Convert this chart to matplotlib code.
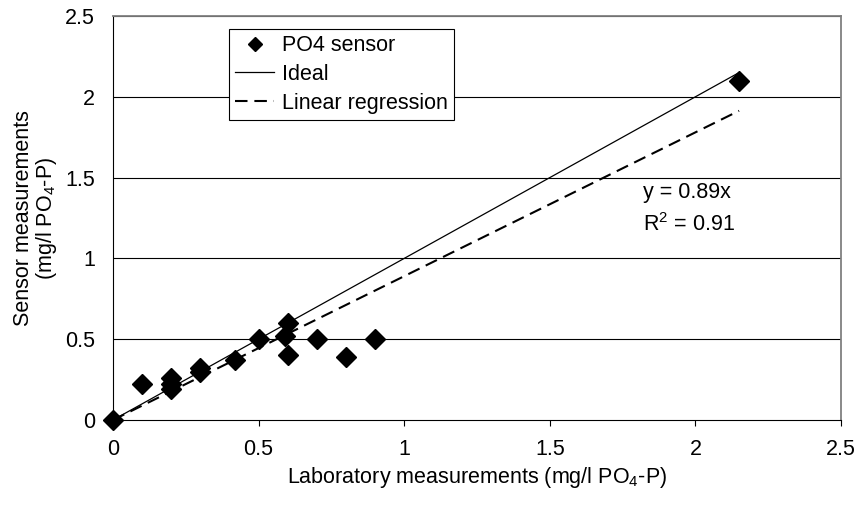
import matplotlib
matplotlib.use("Agg")
import matplotlib.pyplot as plt
import numpy as np

plt.rcParams['font.family'] = ['Liberation Sans', 'DejaVu Sans']
plt.rcParams['mathtext.fontset'] = 'custom'
plt.rcParams['mathtext.rm'] = 'Liberation Sans'
plt.rcParams['mathtext.it'] = 'Liberation Sans:italic'

lab = [0.0, 0.1, 0.2, 0.2, 0.2, 0.3, 0.3, 0.42, 0.5, 0.59, 0.6, 0.6, 0.7, 0.8, 0.9, 2.15]
sensor = [0.0, 0.22, 0.26, 0.22, 0.19, 0.32, 0.3, 0.37, 0.5, 0.52, 0.6, 0.4, 0.5, 0.39, 0.5, 2.1]
ideal_x = [0.0, 2.15]
slope = 0.89
r2 = 0.91
xticks = [0, 0.5, 1, 1.5, 2, 2.5]
yticks = [0, 0.5, 1, 1.5, 2, 2.5]
ticklabels = ['0', '0.5', '1', '1.5', '2', '2.5']

FS = 15.5

fig = plt.figure(figsize=(8.63, 5.08), dpi=100)
ax = fig.add_axes([113/863, 1-420/508, (841-113)/863, (420-16)/508])

ax.set_xlim(0, 2.5)
ax.set_ylim(0, 2.5)
for y in yticks[1:]:
    ax.axhline(y, color='black', lw=0.8, zorder=0)

ix = np.array(ideal_x)
ax.plot(ix, ix, color='black', lw=0.9, label='Ideal', zorder=2)
ax.plot(ix, slope * ix, color='black', lw=1.5, ls=(0, (6, 3.3)), label='Linear regression', zorder=2)
ax.plot(lab, sensor, ls='none', marker='D', ms=10, color='black', label='PO4 sensor', zorder=3, clip_on=False)

ax.set_xticks(xticks)
ax.set_yticks(yticks)
ax.set_xticklabels(ticklabels)
ax.set_yticklabels(ticklabels)
ax.tick_params(axis='x', labelsize=FS, length=4.5, width=0.8, direction='out', pad=9)
ax.tick_params(axis='y', labelsize=FS, length=0, pad=13)

for s in ['top', 'right']:
    ax.spines[s].set_color('#808080')
    ax.spines[s].set_linewidth(1.3)
for s in ['left', 'bottom']:
    ax.spines[s].set_color('black')
    ax.spines[s].set_linewidth(0.8)

ax.set_xlabel('Laboratory measurements (mg/l PO$_4$-P)', fontsize=FS, labelpad=4)
ax.set_ylabel('Sensor measurements\n(mg/l PO$_4$-P)', fontsize=FS, labelpad=4, linespacing=1.0)

ax.text(1.82, 1.405, 'y = %.2fx' % slope, fontsize=FS, va='center', ha='left')
ax.text(1.82, 1.207, 'R$^2$ = %.2f' % r2, fontsize=FS, va='center', ha='left')

handles, labels = ax.get_legend_handles_labels()
order = [2, 0, 1]
leg = ax.legend([handles[i] for i in order], [labels[i] for i in order],
                loc='upper left', bbox_to_anchor=((229-113)/728, 1-(29-16)/404),
                fontsize=FS, frameon=True, fancybox=False, framealpha=1,
                edgecolor='black', handlelength=1.8, handletextpad=0.35,
                borderpad=0.3, labelspacing=0.35, borderaxespad=0)
leg.get_frame().set_linewidth(0.8)
for h in leg.legend_handles:
    if h.get_marker() == 'D':
        h.set_markersize(7)

fig.savefig('out.png', dpi=100)
